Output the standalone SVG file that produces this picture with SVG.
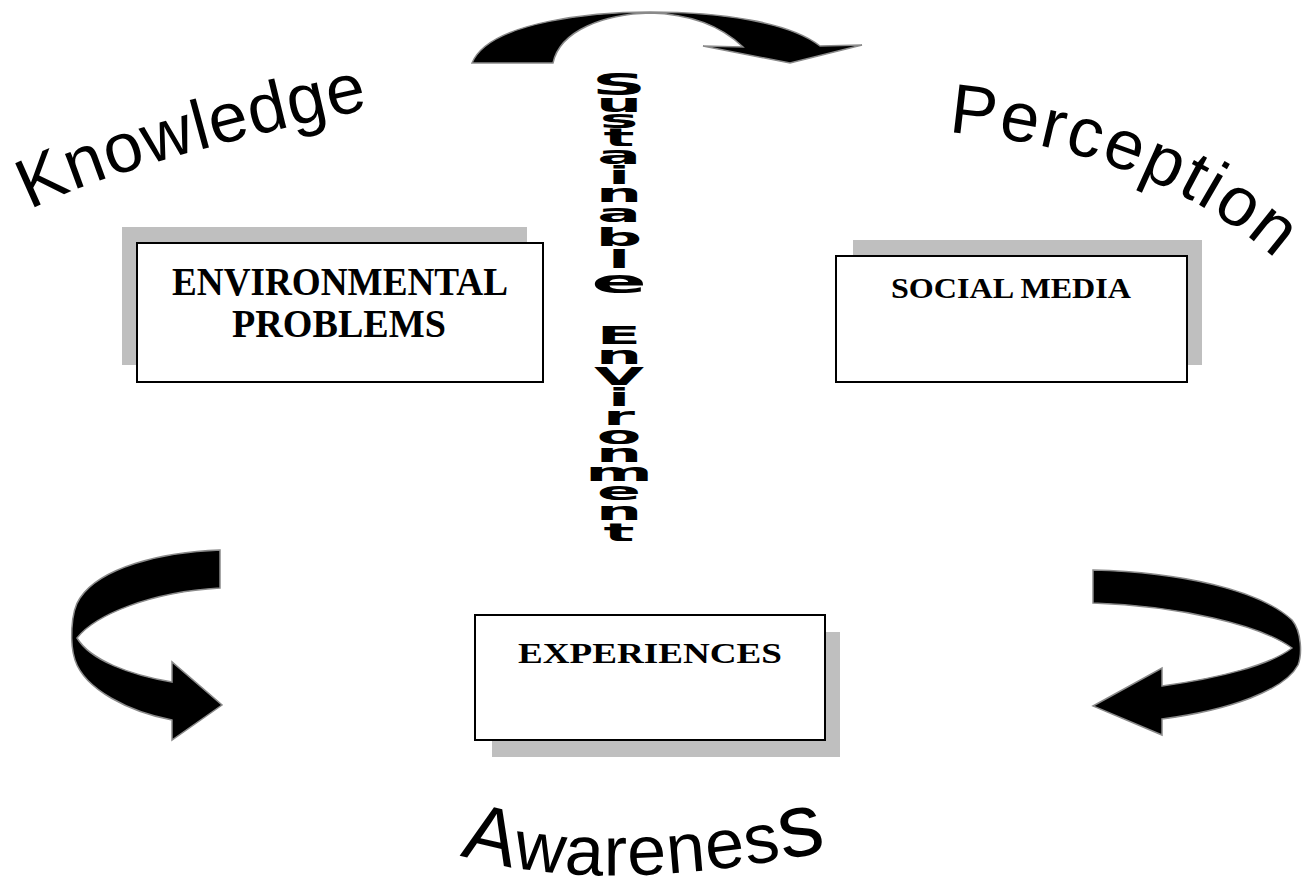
<svg xmlns="http://www.w3.org/2000/svg" width="1311" height="886" viewBox="0 0 1311 886">
  <style>
    .shadow { fill: #bfbfbf; }
    .box { fill: #ffffff; stroke: #000000; stroke-width: 2; }
    .boxlabel { font-family: "Liberation Serif", "Times New Roman", serif; font-weight: bold; fill: #000; text-anchor: middle; }
    .arrow { fill: #000000; stroke: #8a8a8a; stroke-width: 1.5; stroke-linejoin: miter; }
    .art { font-family: "Liberation Sans", Arial, sans-serif; fill: #000; }
    .vert { font-family: "DejaVu Sans", "Liberation Sans", sans-serif; font-weight: bold; fill: #000; text-anchor: middle; font-size: 60px; }
  </style>
  <defs>
    <path id="arcKnowledge" d="M30,210 Q127,160 392,104 L440,96"/>
    <path id="arcPerception" d="M948,132 Q1160,150 1290,272 L1302,284"/>
    <path id="arcAwareness" d="M460,855 Q610,900 850,846 L900,832"/>
  </defs>

  <rect width="1311" height="886" fill="#ffffff"/>

  <!-- connectors: curved block arrows -->
  <g id="connectors">
    <path class="arrow" d="M472,63 C490,20 600,12 650,12 C720,12 790,22 820,46 L862,45 L790,63 L703,46 L743,47 C720,25 690,14 650,13 C605,14 560,30 553,63 Z"/>
    <path class="arrow" d="M220,550 C160,552 100,568 80,598 C70,612 70,645 75,660 C85,690 130,712 172,720 L172,740 L222,705 L172,662 L172,682 C130,675 90,660 77,638 C95,615 150,592 220,588 Z"/>
    <path class="arrow" d="M1093,570 C1180,572 1260,590 1292,620 C1302,632 1302,655 1298,665 C1285,690 1230,710 1162,719 L1162,735 L1093,706 L1162,668 L1162,686 C1220,678 1270,665 1292,648 C1260,625 1180,606 1093,603 Z"/>
  </g>

  <!-- boxes with drop shadows -->
  <g id="box-environmental">
    <rect class="shadow" x="122" y="227" width="405" height="138"/>
    <rect class="box" x="137" y="243" width="406" height="139"/>
    <text class="boxlabel" x="340" y="295" font-size="40" textLength="336" lengthAdjust="spacingAndGlyphs">ENVIRONMENTAL</text>
    <text class="boxlabel" x="339" y="337" font-size="40" textLength="214" lengthAdjust="spacingAndGlyphs">PROBLEMS</text>
  </g>

  <g id="box-social">
    <rect class="shadow" x="853" y="240" width="349" height="125"/>
    <rect class="box" x="836" y="256" width="351" height="126"/>
    <text class="boxlabel" x="1011" y="298" font-size="29" textLength="240" lengthAdjust="spacingAndGlyphs">SOCIAL MEDIA</text>
  </g>

  <g id="box-experiences">
    <rect class="shadow" x="492" y="632" width="348" height="125"/>
    <rect class="box" x="475" y="615" width="350" height="125"/>
    <text class="boxlabel" x="650" y="663" font-size="30" textLength="264" lengthAdjust="spacingAndGlyphs">EXPERIENCES</text>
  </g>

  <!-- curved word labels -->
  <g id="label-knowledge">
    <text class="art" font-size="70" letter-spacing="1"><textPath href="#arcKnowledge">Knowledge</textPath></text>
  </g>
  <g id="label-perception">
    <text class="art" font-size="70" letter-spacing="2.5"><textPath href="#arcPerception">Perception</textPath></text>
  </g>
  <g id="label-awareness">
    <text class="art" font-size="70" letter-spacing="1"><textPath href="#arcAwareness"><tspan font-size="80">A</tspan>warenes<tspan font-size="90">s</tspan></textPath></text>
  </g>

  <!-- stacked vertical title, one letter per line, squashed vertically -->
  <g id="label-sustainable-environment">
    <text class="vert" transform="translate(619 0) scale(1.08 0.42)"><tspan x="0" y="226" font-size="70">S</tspan><tspan x="0" y="267">u</tspan><tspan x="0" y="305">s</tspan><tspan x="0" y="348">t</tspan><tspan x="0" y="390">a</tspan><tspan x="0" y="438">i</tspan><tspan x="0" y="481">n</tspan><tspan x="0" y="529">a</tspan><tspan x="0" y="586">b</tspan><tspan x="0" y="638">l</tspan><tspan x="0" y="697" font-size="76">e</tspan><tspan x="0" y="819">E</tspan><tspan x="0" y="867">n</tspan><tspan x="0" y="917">V</tspan><tspan x="0" y="967">i</tspan><tspan x="0" y="1012">r</tspan><tspan x="0" y="1057">o</tspan><tspan x="0" y="1100">n</tspan><tspan x="0" y="1145">m</tspan><tspan x="0" y="1190">e</tspan><tspan x="0" y="1238">n</tspan><tspan x="0" y="1288">t</tspan></text>
  </g>
</svg>
